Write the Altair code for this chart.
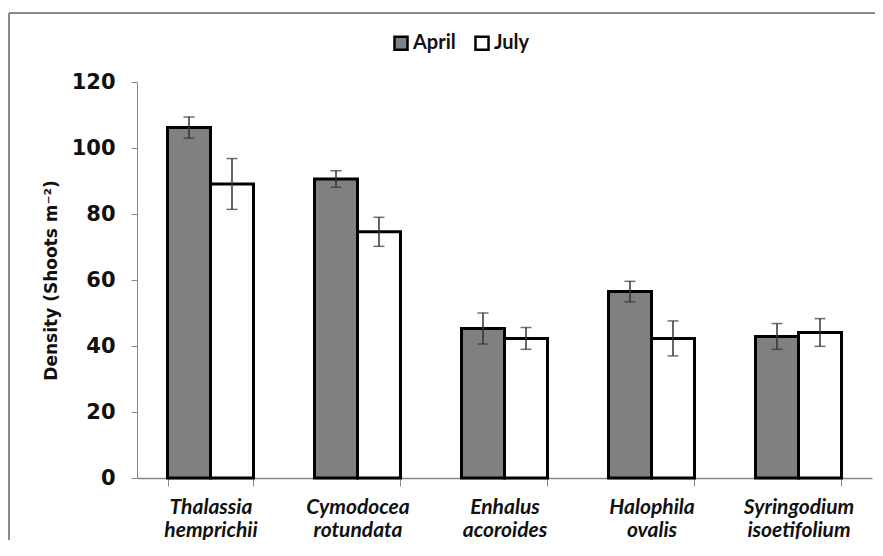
import altair as alt
import pandas as pd

species = ["Thalassia hemprichii", "Cymodocea rotundata", "Enhalus acoroides",
           "Halophila ovalis", "Syringodium isoetifolium"]
seasons = ["April", "July"]
april = [106.2, 90.6, 45.3, 56.5, 42.9]
april_err = [3.2, 2.5, 4.7, 3.1, 3.9]
july = [89.1, 74.6, 42.3, 42.3, 44.1]
july_err = [7.7, 4.4, 3.3, 5.3, 4.2]

rows = []
for s, a, ae, j, je in zip(species, april, april_err, july, july_err):
    rows.append({"species": s, "season": "April", "value": a, "lo": a - ae, "hi": a + ae})
    rows.append({"species": s, "season": "July", "value": j, "lo": j - je, "hi": j + je})
df = pd.DataFrame(rows)

W, H = 735, 396
PAD = {"left": 129, "top": 74, "right": 3, "bottom": 62}

xenc = alt.X("species:N", sort=species, title=None,
             scale=alt.Scale(paddingInner=0.415, paddingOuter=0.2075),
             axis=alt.Axis(labelExpr="split(datum.label, ' ')", labelAngle=0,
                           labelFont="Lato", labelFontSize=21, labelFontWeight="bold",
                           labelFontStyle="italic", labelColor="#111111",
                           labelLineHeight=23, labelPadding=10,
                           tickBand="extent", tickSize=8, tickColor="#888888",
                           domainColor="#888888", domainWidth=1.5))
xoff = alt.XOffset("season:N", sort=seasons, scale=alt.Scale(paddingInner=0, paddingOuter=0))
yscale = alt.Scale(domain=[0, 120], nice=False)

bars = alt.Chart(df).mark_bar(stroke="black", strokeWidth=3).encode(
    x=xenc,
    xOffset=xoff,
    y=alt.Y("value:Q", scale=yscale, title="Density (Shoots m⁻²)",
            axis=alt.Axis(values=[0, 20, 40, 60, 80, 100, 120], grid=False,
                          labelFont="DejaVu Sans", labelFontSize=21, labelFontWeight="bold",
                          labelColor="#111111", labelPadding=16,
                          tickSize=6, tickColor="#888888", domainColor="#888888",
                          titleFont="DejaVu Sans", titleFontSize=17, titleFontWeight="bold",
                          titleColor="#111111", titlePadding=11)),
    fill=alt.Fill("season:N", sort=seasons,
                  scale=alt.Scale(domain=seasons, range=["#808080", "#ffffff"]),
                  legend=alt.Legend(title=None, orient="none", direction="horizontal",
                                    legendX=254, legendY=-49, symbolType="square",
                                    symbolSize=170, symbolStrokeColor="black",
                                    symbolStrokeWidth=2.5, labelFont="Lato",
                                    labelFontSize=20, labelFontWeight="bold",
                                    labelColor="#111111", columnPadding=14, labelOffset=2)),
)

rules = alt.Chart(df).mark_rule(color="#333333", strokeWidth=1.5).encode(
    x=alt.X("species:N", sort=species), xOffset=xoff,
    y=alt.Y("lo:Q", scale=yscale), y2="hi:Q")
cap_lo = alt.Chart(df).mark_tick(color="#333333", thickness=1.5, size=11).encode(
    x=alt.X("species:N", sort=species), xOffset=xoff, y=alt.Y("lo:Q", scale=yscale))
cap_hi = alt.Chart(df).mark_tick(color="#333333", thickness=1.5, size=11).encode(
    x=alt.X("species:N", sort=species), xOffset=xoff, y=alt.Y("hi:Q", scale=yscale))

frame_df = pd.DataFrame({"k": [0]})
frame_top = alt.Chart(frame_df).mark_rule(color="#8a8a8a", strokeWidth=2).encode(
    x=alt.value(-128), x2=alt.value(W + PAD["right"]), y=alt.value(-69))
frame_left = alt.Chart(frame_df).mark_rule(color="#8a8a8a", strokeWidth=2).encode(
    x=alt.value(-128), y=alt.value(-69), y2=alt.value(H + PAD["bottom"]))

chart = alt.layer(bars, rules, cap_lo, cap_hi, frame_top, frame_left).properties(
    width=W, height=H,
    background="white",
    autosize=alt.AutoSizeParams(type="none"),
    padding=PAD,
).configure_view(stroke=None)

chart.save("out.html", embed_options={"renderer": "svg", "actions": False})
